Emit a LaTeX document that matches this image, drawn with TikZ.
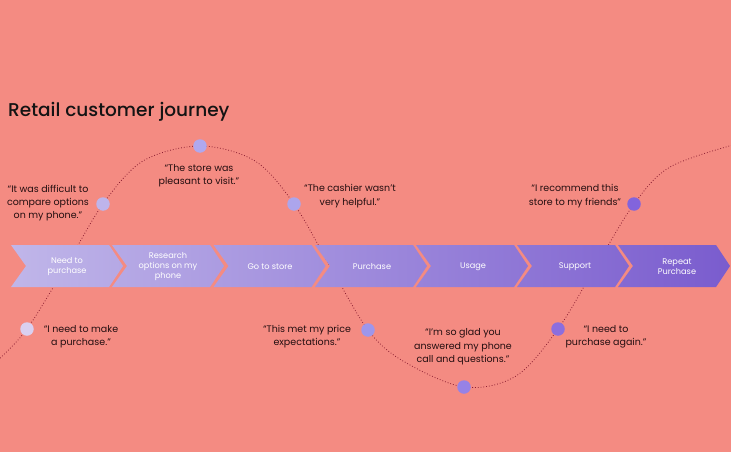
\documentclass[tikz,border=0pt]{standalone}
\usepackage{fontspec}
\setmainfont{Poppins}
\newfontfamily\titlefont{Poppins Medium}
\usetikzlibrary{positioning}
\definecolor{journeybg}{RGB}{244,139,130}
\definecolor{chevlight}{RGB}{192,182,233}
\definecolor{chevdark}{RGB}{122,92,206}
\definecolor{curvered}{RGB}{140,30,50}
\definecolor{quoteink}{RGB}{35,14,16}

\begin{document}
\begin{tikzpicture}[x=1pt,y=-1pt,
  quote/.style={font=\fontsize{9.5}{13.3}\selectfont,text=quoteink,align=center,inner sep=0pt},
  stagelabel/.style={font=\fontsize{8.2}{10}\selectfont,text=white,align=center,inner sep=0pt},
  touchdot/.style={circle,minimum size=13.5pt,inner sep=0pt}]
\fill[journeybg] (0,0) rectangle (731,452);
\useasboundingbox (0,0) rectangle (731,452);
\node[anchor=base west,font=\fontsize{18.5}{22}\titlefont,text=black!92,inner sep=0pt] (title) at (8,116) {Retail customer journey};
% touch points on the curve
\foreach \n/\x/\y in {d1/27/329,d2/103/204,d3/200/146,d4/294/204,d5/368/330,d6/464/387,d7/558/329,d8/634/204}{
  \coordinate (\n) at (\x,\y);}
\draw[curvered,dotted,line width=0.8pt] plot[smooth,tension=0.55] coordinates {(-2,360) (d1) (66,266) (d2) (143,161) (d3) (255,161) (d4) (330,266) (d5) (403,361) (d6) (516,376) (d7) (596,266) (d8) (670,167) (733,145)};
% stages
\shade[left color=chevlight,right color=chevdark]
  \foreach \s in {11,112,213.5,315,416,517,618}{(\s,245) -- (\s+98,245) -- (\s+112,266) -- (\s+98,287) -- (\s,287) -- (\s+15,266) -- cycle};
\node[stagelabel] (s1) at (67,267) {Need to\\purchase};
\node[stagelabel] (s2) at (168,267) {Research\\options on my\\phone};
\node[stagelabel] (s3) at (270,267) {Go to store};
\node[stagelabel] (s4) at (372,267) {Purchase};
\node[stagelabel] (s5) at (473,267) {Usage};
\node[stagelabel] (s6) at (575,267) {Support};
\node[stagelabel] (s7) at (677,267) {Repeat\\Purchase};
\foreach \n/\r/\g/\b in {d1/218/208/240,d2/190/180/235,d3/176/168/238,d4/172/165/236,
  d5/158/150/235,d6/150/130/230,d7/140/110/222,d8/130/100/220}{
  \definecolor{dotfill}{RGB}{\r,\g,\b}
  \node[touchdot,fill=dotfill] (\n dot) at (\n) {};}
% quotes
\node[quote] (q1) at (48,203) {“It was difficult to\\compare options\\on my phone.”};
\node[quote] (q2) at (199,176) {“The store was\\pleasant to visit.”};
\node[quote] (q3) at (350,196) {“The cashier wasn’t\\very helpful.”};
\node[quote] (q4) at (575,196) {“I recommend this\\store to my friends”};
\node[quote] (q5) at (81,336.5) {“I need to make\\a purchase.”};
\node[quote] (q6) at (307,336.5) {“This met my price\\expectations.”};
\node[quote] (q7) at (463,347) {“I’m so glad you\\answered my phone\\call and questions.”};
\node[quote] (q8) at (606,336.5) {“I need to\\purchase again.”};
\end{tikzpicture}
\end{document}
